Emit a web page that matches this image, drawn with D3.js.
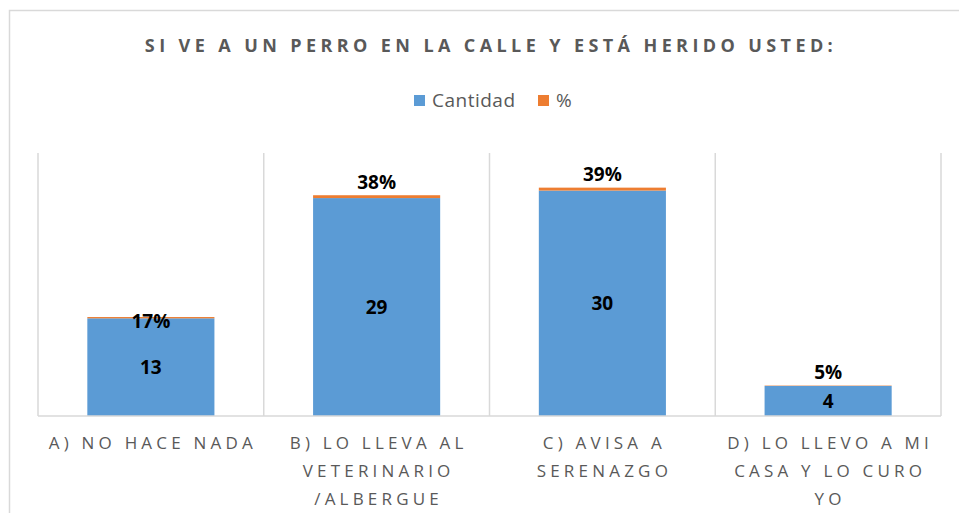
<!DOCTYPE html>
<html>
<head>
<meta charset="utf-8">
<script src="https://cdn.jsdelivr.net/npm/d3@7"></script>
<style>
  body { margin: 0; background: #fff; }
  text { font-family: "Open Sans", sans-serif; }
</style>
</head>
<body>
<svg id="chart" width="959" height="518"></svg>
<script>
const title = 'SI VE A UN PERRO EN LA CALLE Y ESTÁ HERIDO USTED:';
const categories = [
  'A) NO HACE NADA',
  'B) LO LLEVA AL\nVETERINARIO\n/ALBERGUE',
  'C) AVISA A\nSERENAZGO',
  'D) LO LLEVO A MI\nCASA Y LO CURO\nYO'
];
const cantidad = [13, 29, 30, 4];
const porcentaje = [0.17, 0.38, 0.39, 0.05];
const seriesNames = ['Cantidad', '%'];
// the 17% label sits on the bar, the others above it
const pctLabelDy = [4, -13, -13, -13];

const width = 959, height = 518;
const margin = { top: 153, right: 18, bottom: 102, left: 38 };
const colors = ['#5B9BD5', '#ED7D31'];
const grid = '#D9D9D9';
const textGray = '#595959';

const svg = d3.select('#chart');

// chart frame (top + left edge visible)
svg.append('path')
  .attr('d', `M9.5,513 V10.5 H${width}`)
  .attr('fill', 'none')
  .attr('stroke', grid)
  .attr('stroke-width', 1.5);

svg.append('text')
  .attr('x', 491)
  .attr('y', 52)
  .attr('text-anchor', 'middle')
  .style('font-size', '18px')
  .style('font-weight', '700')
  .style('letter-spacing', '4.4px')
  .style('fill', textGray)
  .text(title);

// legend
const legend = svg.append('g');
const legendX = [414, 538];
seriesNames.forEach((name, i) => {
  legend.append('rect')
    .attr('x', legendX[i]).attr('y', 95)
    .attr('width', 11).attr('height', 11)
    .attr('fill', colors[i]);
  legend.append('text')
    .attr('x', legendX[i] + 18).attr('y', 107)
    .style('font-size', '19px')
    .style('letter-spacing', '0.5px')
    .style('fill', textGray)
    .text(name);
});

const x = d3.scaleBand()
  .domain(categories)
  .range([margin.left, width - margin.right])
  .paddingInner(0.437)
  .paddingOuter(0.2185);

const y = d3.scaleLinear()
  .domain([0, 35])
  .range([height - margin.bottom, margin.top]);

const step = x.step();
const x0 = margin.left;

// vertical category gridlines
svg.append('g')
  .selectAll('line')
  .data(d3.range(categories.length + 1))
  .join('line')
  .attr('x1', i => x0 + i * step)
  .attr('x2', i => x0 + i * step)
  .attr('y1', y(35))
  .attr('y2', y(0))
  .attr('stroke', grid)
  .attr('stroke-width', 1.5);

// stacked bars
const rows = categories.map((c, i) => ({ cat: c, cantidad: cantidad[i], pct: porcentaje[i], i }));
const stack = d3.stack().keys(['cantidad', 'pct'])(rows);

svg.append('g')
  .selectAll('g')
  .data(stack)
  .join('g')
  .attr('fill', (d, i) => colors[i])
  .selectAll('rect')
  .data(d => d)
  .join('rect')
  .attr('x', d => x(d.data.cat))
  .attr('width', x.bandwidth())
  .attr('y', d => y(d[1]))
  .attr('height', d => y(d[0]) - y(d[1]));

// baseline axis
svg.append('line')
  .attr('x1', x0).attr('x2', x0 + step * categories.length)
  .attr('y1', y(0)).attr('y2', y(0))
  .attr('stroke', grid).attr('stroke-width', 1.5);

// value labels
const labels = svg.append('g')
  .attr('text-anchor', 'middle')
  .style('font-size', '19px')
  .style('font-weight', '700')
  .style('fill', '#000');

labels.selectAll('text.cant')
  .data(rows)
  .join('text')
  .attr('class', 'cant')
  .attr('x', d => x(d.cat) + x.bandwidth() / 2)
  .attr('y', d => (y(0) + y(d.cantidad)) / 2)
  .attr('dy', '0.36em')
  .text(d => d.cantidad);

labels.selectAll('text.pct')
  .data(rows)
  .join('text')
  .attr('class', 'pct')
  .attr('x', d => x(d.cat) + x.bandwidth() / 2)
  .attr('y', d => y(d.cantidad + d.pct) + pctLabelDy[d.i])
  .attr('dy', '0.36em')
  .text(d => Math.round(d.pct * 100) + '%');

// category labels
const catLabels = svg.append('g')
  .attr('text-anchor', 'middle')
  .style('font-size', '17px')
  .style('letter-spacing', '4.2px')
  .style('fill', textGray);

catLabels.selectAll('text')
  .data(categories)
  .join('text')
  .attr('x', d => x(d) + x.bandwidth() / 2 + 2)
  .attr('y', 449)
  .selectAll('tspan')
  .data(d => d.split('\n'))
  .join('tspan')
  .attr('x', function() { return this.parentNode.getAttribute('x'); })
  .attr('dy', (d, i) => i === 0 ? 0 : 28)
  .text(d => d);
</script>
</body>
</html>
